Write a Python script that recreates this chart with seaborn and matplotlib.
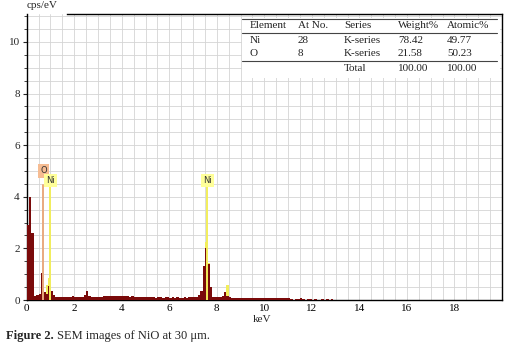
import numpy as np
import matplotlib
matplotlib.use("Agg")
import matplotlib.pyplot as plt
import seaborn as sns
from matplotlib.ticker import MultipleLocator
from matplotlib.patches import Rectangle

# EDS spectrum, 0.1 keV channels from 0 to 13 keV (cps/eV)
counts = [
    2.9, 4.0, 2.6, 0.15, 0.18, 0.22, 1.06, 0.3, 0.25, 0.55,
    0.35, 0.18, 0.12, 0.1, 0.11, 0.1, 0.12, 0.1, 0.11, 0.15,
    0.12, 0.1, 0.12, 0.11, 0.2, 0.35, 0.15, 0.12, 0.11, 0.1,
    0.11, 0.12, 0.14, 0.15, 0.14, 0.15, 0.14, 0.15, 0.14, 0.15,
    0.14, 0.15, 0.14, 0.13, 0.15, 0.12, 0.13, 0.12, 0.11, 0.12,
    0.1, 0.11, 0.1, 0.1, 0.09, 0.1, 0.1, 0.09, 0.1, 0.1,
    0.09, 0.1, 0.08, 0.1, 0.09, 0.08, 0.1, 0.09, 0.1, 0.1,
    0.1, 0.12, 0.2, 0.35, 1.3, 2.0, 1.4, 0.5, 0.12, 0.1,
    0.1, 0.12, 0.15, 0.32, 0.15, 0.1, 0.09, 0.09, 0.08, 0.09,
    0.08, 0.08, 0.09, 0.08, 0.08, 0.08, 0.09, 0.08, 0.08, 0.08,
    0.08, 0.07, 0.08, 0.07, 0.08, 0.07, 0.07, 0.08, 0.07, 0.07,
    0.06, 0.05, 0.0, 0.05, 0.04, 0.06, 0.05, 0.0, 0.05, 0.04,
    0.0, 0.04, 0.0, 0.0, 0.05, 0.0, 0.04, 0.0, 0.03, 0.0,
]
energy = np.round(np.arange(len(counts)) * 0.1 + 0.05, 2)

# fitted Ni component (yellow)
ni_fit_energy = [0.85, 0.95, 7.55, 7.65, 8.45]
ni_fit_counts = [0.6, 0.86, 2.26, 1.45, 0.58]

# element marker lines
marker_names = ["O", "Ni", "Ni"]
marker_energy = [0.7, 1.0, 7.6]
marker_height = [4.45, 4.45, 4.45]
marker_colors = ["#E9A97E", "#F2EE5A", "#F2EE5A"]
label_colors = ["#F6BC92", "#FFFF99", "#FFFF99"]
label_y = [5.0, 4.62, 4.62]

# quantification table
table_header = ["Element", "At No.", "Series", "Weight%", "Atomic%"]
elements = ["Ni", "O"]
at_numbers = ["28", "8"]
series = ["K-series", "K-series"]
weight_pct = ["78.42", "21.58"]
atomic_pct = ["49.77", "50.23"]
total_row = ["", "", "Total", "100.00", "100.00"]

sns.set_theme(style="ticks")
plt.rcParams["font.family"] = ["Liberation Serif", "DejaVu Serif"]

fig = plt.figure(figsize=(5.25, 3.49), dpi=100)
ax = fig.add_axes([26.7 / 525, 49 / 349, 475.3 / 525, 286 / 349])

sns.histplot(x=ni_fit_energy, weights=ni_fit_counts, binwidth=0.1, binrange=(0, 13),
             color="#F2EE5A", alpha=1, linewidth=0, ax=ax, zorder=2)
sns.histplot(x=energy, weights=counts, binwidth=0.1, binrange=(0, 13),
             color="#7A0A0A", alpha=1, linewidth=0, ax=ax, zorder=3)

for name, e, h, c, lc, ly in zip(marker_names, marker_energy, marker_height,
                                  marker_colors, label_colors, label_y):
    ax.plot([e, e], [0, h], color=c, lw=1.4, zorder=4)
    ax.text(e, ly, name, ha="center", va="center", fontsize=6, family="DejaVu Sans",
            color="#333333", zorder=5,
            bbox=dict(boxstyle="square,pad=0.25", fc=lc, ec="none"))

ax.set_xlim(0, 20)
ax.set_ylim(0, 11.08)
ax.set_xticks([0, 2, 4, 6, 8, 10, 12, 14, 16, 18])
ax.set_yticks([0, 2, 4, 6, 8, 10])
ax.xaxis.set_minor_locator(MultipleLocator(0.5))
ax.yaxis.set_minor_locator(MultipleLocator(0.5))
ax.grid(which="both", color="#D4D4D4", lw=0.6)
ax.set_axisbelow(True)
ax.tick_params(axis="x", which="both", length=0, labelsize=8, pad=3, colors="black")
ax.tick_params(axis="y", which="major", length=3, width=0.8, labelsize=8, pad=2)
ax.tick_params(axis="y", which="minor", length=2, width=0.6)
ax.set_xlabel("")
ax.set_ylabel("")
for s in ax.spines.values():
    s.set_visible(True)
    s.set_color("black")
    s.set_linewidth(1.0)
# top frame line starts after the unit label
ax.spines["top"].set_bounds(1.7, 20)

# table inside the plot
def ax_x(px):
    return (px - 26.7) / 475.3


def ax_y(py):
    return (300 - py) / 286


ax.add_patch(Rectangle((ax_x(242), ax_y(78)), ax_x(500) - ax_x(242), ax_y(18) - ax_y(78),
                       transform=ax.transAxes, fc="white", ec="none", zorder=6))
for ly in [18.7, 32.7, 61]:
    ax.plot([ax_x(242), ax_x(497)], [ax_y(ly), ax_y(ly)], transform=ax.transAxes,
            color="#444444", lw=0.8, zorder=7)
col_x = [250, 298, 344, 398, 447]
rows = [table_header,
        [elements[0], at_numbers[0], series[0], weight_pct[0], atomic_pct[0]],
        [elements[1], at_numbers[1], series[1], weight_pct[1], atomic_pct[1]],
        total_row]
row_y = [26.0, 40.3, 53.3, 68.3]
for row, ry in zip(rows, row_y):
    for txt, cx in zip(row, col_x):
        ax.text(ax_x(cx), ax_y(ry), txt, transform=ax.transAxes, ha="left", va="center",
                fontsize=8, color="#222222", zorder=8)

fig.text(27 / 525, 1 - 5 / 349, "cps/eV", ha="left", va="center", fontsize=8)
fig.text(262 / 525, 1 - 319 / 349, "keV", ha="center", va="center", fontsize=8)
fig.text(6 / 525, 1 - 336 / 349, "Figure 2.", ha="left", va="center", fontsize=9,
         fontweight="bold")
fig.text(57 / 525, 1 - 336 / 349, "SEM images of NiO at 30 \u03bcm.", ha="left",
         va="center", fontsize=9)

fig.savefig("out.png", dpi=100)
